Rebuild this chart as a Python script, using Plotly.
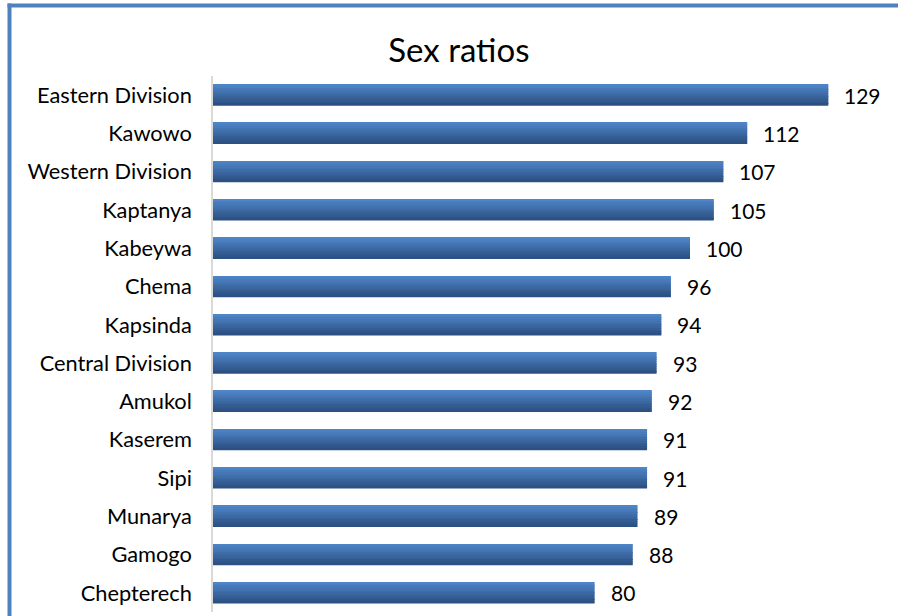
import plotly.graph_objects as go

categories = ["Eastern Division", "Kawowo", "Western Division", "Kaptanya", "Kabeywa",
              "Chema", "Kapsinda", "Central Division", "Amukol", "Kaserem", "Sipi",
              "Munarya", "Gamogo", "Chepterech"]
values = [129, 112, 107, 105, 100, 96, 94, 93, 92, 91, 91, 89, 88, 80]

W, H = 898, 616
ML, MR, MT, MB = 213, 8, 76, 4
plot_w = W - ML - MR
plot_h = H - MT - MB
px_per_unit = 4.77
xmax = plot_w / px_per_unit

top_rgb = (78, 133, 200)
bot_rgb = (44, 80, 130)
n_slices = 12
bar_w = 0.55

fig = go.Figure()
for i in range(n_slices):
    t = i / (n_slices - 1)
    c = tuple(round(top_rgb[k] + (bot_rgb[k] - top_rgb[k]) * t) for k in range(3))
    fig.add_trace(go.Bar(
        x=values, y=categories, orientation="h",
        width=bar_w / n_slices * 1.02,
        offset=-bar_w / 2 + i * bar_w / n_slices,
        marker=dict(color="rgb(%d,%d,%d)" % c, line=dict(width=0)),
        hoverinfo="skip", showlegend=False,
    ))

annotations = []
for cat, v in zip(categories, values):
    annotations.append(dict(x=v, y=cat, xref="x", yref="y", text=str(v),
                            showarrow=False, xanchor="left", xshift=14,
                            font=dict(family="Lato", size=21, color="#000000")))

def px_to_paper_x(px):
    return (px - ML) / plot_w

def px_to_paper_y(py):
    return 1 - (py - MT) / plot_h

shapes = [
    dict(type="line", xref="paper", yref="paper",
         x0=px_to_paper_x(9.5), x1=px_to_paper_x(9.5),
         y0=px_to_paper_y(3.5), y1=px_to_paper_y(H + 10),
         line=dict(color="#4f81bd", width=4)),
    dict(type="line", xref="paper", yref="paper",
         x0=px_to_paper_x(7.5), x1=px_to_paper_x(W + 10),
         y0=px_to_paper_y(5.5), y1=px_to_paper_y(5.5),
         line=dict(color="#4f81bd", width=4)),
]

fig.update_layout(
    width=W, height=H,
    margin=dict(l=ML, r=MR, t=MT, b=MB, pad=0),
    paper_bgcolor="white", plot_bgcolor="white",
    barmode="overlay",
    title=dict(text="Sex ratios", x=0.511, xanchor="center", y=1 - 50 / H, yanchor="middle",
               font=dict(family="Lato", size=33, color="#000000")),
    xaxis=dict(range=[0, xmax], showgrid=False, zeroline=False, showticklabels=False,
               showline=False, ticks=""),
    yaxis=dict(autorange="reversed", showgrid=False, zeroline=False,
               showline=True, linecolor="#d9d9d9", linewidth=1.5,
               ticks="", ticklabelstandoff=15,
               tickfont=dict(family="Lato", size=21.8, color="#000000")),
    annotations=annotations,
    shapes=shapes,
    font=dict(family="Lato"),
)

fig.write_html("out.html", config={"displayModeBar": False},
               post_script="document.body.style.margin='0';document.body.style.overflow='hidden';")
